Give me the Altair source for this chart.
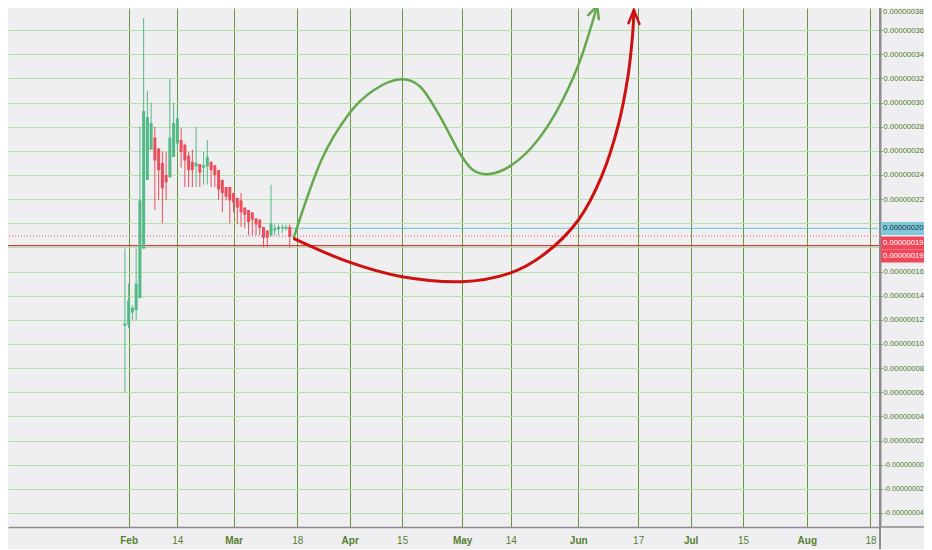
import altair as alt
import pandas as pd

# ---------------- data ----------------
candle_dates = [
    "2018-01-31", "2018-02-01", "2018-02-02", "2018-02-03", "2018-02-04", "2018-02-05",
    "2018-02-06", "2018-02-07", "2018-02-08", "2018-02-09", "2018-02-10", "2018-02-11",
    "2018-02-12", "2018-02-13", "2018-02-14", "2018-02-15", "2018-02-16", "2018-02-17",
    "2018-02-18", "2018-02-19", "2018-02-20", "2018-02-21", "2018-02-22", "2018-02-23",
    "2018-02-24", "2018-02-25", "2018-02-26", "2018-02-27", "2018-02-28", "2018-03-01",
    "2018-03-02", "2018-03-03", "2018-03-04", "2018-03-05", "2018-03-06", "2018-03-07",
    "2018-03-08", "2018-03-09", "2018-03-10", "2018-03-11", "2018-03-12", "2018-03-13",
    "2018-03-14", "2018-03-15", "2018-03-16",
]
# prices in satoshi (1e-8)
opens = [11.5, 11.6, 12.6, 12.8, 13.8, 17.9, 23.6, 26.1, 27.1, 26.2, 25.0, 24.0,
         23.8, 25.5, 26.6, 26.9, 26.5, 25.6, 25.1, 24.7, 24.9, 24.6, 24.7, 25.1,
         24.8, 24.4, 23.6, 23.0, 23.0, 22.5, 22.1, 21.9, 21.3, 21.1, 20.9, 20.4,
         20.3, 19.7, 19.4, 19.0, 19.4, 19.5, 19.6, 19.6, 19.7]
highs = [17.9, 15.0, 13.2, 17.9, 28.0, 37.0, 31.0, 30.0, 28.0, 26.2, 25.9, 25.9,
         32.0, 30.0, 29.6, 27.9, 26.6, 25.9, 26.1, 28.0, 24.9, 25.9, 26.9, 25.1,
         24.8, 24.4, 23.6, 23.0, 23.0, 22.5, 22.1, 22.5, 21.3, 21.1, 20.9, 20.4,
         20.3, 19.7, 19.4, 23.2, 19.9, 19.9, 19.9, 19.9, 19.9]
lows = [6.0, 11.3, 12.0, 12.0, 13.8, 17.9, 23.6, 26.1, 21.1, 21.9, 20.0, 21.9,
        23.8, 25.5, 26.1, 24.6, 23.0, 23.0, 23.0, 23.0, 23.0, 23.2, 23.2, 23.0,
        23.0, 21.9, 20.9, 21.9, 20.0, 20.9, 19.9, 19.7, 19.6, 19.0, 19.0, 19.0,
        19.0, 18.0, 18.0, 18.9, 19.0, 19.0, 19.2, 19.4, 18.0]
closes = [11.7, 13.6, 13.0, 15.0, 21.9, 29.3, 28.8, 28.3, 25.2, 24.4, 22.9, 23.4,
          27.1, 28.3, 28.7, 25.9, 25.2, 24.4, 24.4, 25.0, 24.2, 24.8, 25.5, 24.4,
          24.0, 22.8, 22.5, 22.2, 21.9, 21.7, 21.3, 20.9, 20.7, 20.1, 20.3, 19.9,
          19.6, 18.8, 18.8, 20.0, 19.6, 19.7, 19.7, 19.7, 18.9]

tick_dates = ["2018-02-01", "2018-02-14", "2018-03-01", "2018-03-18", "2018-04-01",
              "2018-04-15", "2018-05-01", "2018-05-14", "2018-06-01", "2018-06-17",
              "2018-07-01", "2018-07-15", "2018-08-01", "2018-08-18"]
price_ticks = [-4, -2, 0, 2, 4, 6, 8, 10, 12, 14, 16, 18, 20, 22, 24, 26, 28, 30,
               32, 34, 36, 38]
top_tick_val = 38
top_tick_text = "0.00000038"

green_dates = ["2018-03-17T00:00:00Z", "2018-03-24T11:00:00Z", "2018-03-31T22:00:00Z",
               "2018-04-07T12:00:00Z", "2018-04-14T13:00:00Z", "2018-04-19T20:00:00Z",
               "2018-04-25T03:00:00Z", "2018-04-30T09:00:00Z", "2018-05-03T22:00:00Z",
               "2018-05-08T07:00:00Z", "2018-05-13T14:00:00Z", "2018-05-19T17:00:00Z",
               "2018-05-25T22:00:00Z", "2018-06-01T01:00:00Z", "2018-06-06T01:00:00Z"]
green_vals = [18.75, 25.24, 29.11, 31.04, 31.93, 31.31, 28.83, 25.8, 24.41, 24.08,
              24.69, 26.34, 29.11, 33.11, 38.0]
green_head_dates = ["2018-06-03T16:00:00Z", "2018-06-06T01:00:00Z", "2018-06-06T12:00:00Z"]
green_head_vals = [37.25, 38.0, 36.9]

red_dates = ["2018-03-17T00:00:00Z", "2018-03-31T12:00:00Z", "2018-04-15T00:00:00Z",
             "2018-04-30T20:00:00Z", "2018-05-13T14:00:00Z", "2018-05-23T06:00:00Z",
             "2018-06-01T01:00:00Z", "2018-06-07T05:00:00Z", "2018-06-11T14:00:00Z",
             "2018-06-14T06:00:00Z", "2018-06-15T13:00:00Z", "2018-06-15T20:00:00Z"]
red_vals = [18.75, 16.82, 15.57, 15.16, 15.85, 17.51, 20.27, 23.86, 28.0, 32.14,
            35.74, 37.67]
red_head_dates = ["2018-06-14T10:00:00Z", "2018-06-15T20:00:00Z", "2018-06-17T08:00:00Z"]
red_head_vals = [36.57, 37.67, 36.51]

last_line_start = "2018-03-14"
last_line_val = 19.58
dotted_line_val = 18.94
solid_line_val = 18.14

badge_vals = [19.57, 18.36, 17.29]
badge_text = ["0.00000020", "0.00000019", "0.00000019"]
badge_kind = ["last", "level", "level"]

# ---------------- layout / style ----------------
FONT = "Liberation Sans"
BG = "#efeff1"
UP, DOWN = "#53b987", "#eb4d5c"
LABEL = "#4f7a2a"
YFS = 7.7
W, H = 872, 519
RIGHT = 44          # svg total width 916 -> no down-scaling by the page

x_start = pd.Timestamp("2018-01-01 03:07", tz="UTC")
x_end = pd.Timestamp("2018-08-19 05:00", tz="UTC")
x_domain = [int(x_start.value // 10**6), int(x_end.value // 10**6)]
y_domain = [-5.165, 37.834]

def dt(s):
    t = pd.Timestamp(s)
    return alt.DateTime(year=t.year, month=t.month, date=t.day, utc=True)

xaxis = alt.Axis(
    values=[dt(s) for s in tick_dates],
    labelExpr="utcdate(datum.value) == 1 ? utcFormat(datum.value, '%b') : '' + utcdate(datum.value)",
    labelFontWeight={"condition": {"test": "utcdate(datum.value) == 1", "value": "bold"},
                     "value": "normal"},
    grid=True, gridColor="#6a9746", gridWidth=1,
    ticks=False, tickSize=0,
    domain=True, domainColor="#8c8c8c", domainWidth=1.5,
    labelColor="#55802f", labelFont=FONT, labelFontSize=10, labelPadding=8,
    labelOverlap=False, labelFlush=False, title=None,
)
yaxis = alt.Axis(
    orient="right", values=price_ticks,
    labelExpr="(datum.value == 20 || datum.value == 18) ? '' : ((datum.value <= 0 ? '-' : '') + format(abs(datum.value) / 1e8, '.8f'))",
    labelFontSize={"condition": {"test": "datum.value <= 0", "value": 7.2}, "value": YFS},
    grid=True, gridColor="#b4e2ad", gridWidth=1,
    tickSize=2, tickColor="#55802f",
    domainColor="#8c8c8c", domainWidth=2,
    labelColor=LABEL, labelFont=FONT, labelPadding=1,
    title=None,
)
xs = alt.Scale(type="utc", domain=x_domain, nice=False)
ys = alt.Scale(domain=y_domain, nice=False, zero=False)

def X(field):
    return alt.X(field, type="temporal", scale=xs, axis=xaxis, title=None)

def Y(field):
    return alt.Y(field, type="quantitative", scale=ys, axis=yaxis, title=None)

# ---------------- tables ----------------
candles = pd.DataFrame({"date": candle_dates, "open": opens, "high": highs,
                        "low": lows, "close": closes})
green = pd.DataFrame({"date": green_dates, "value": green_vals})
green_head = pd.DataFrame({"date": green_head_dates, "value": green_head_vals})
red = pd.DataFrame({"date": red_dates, "value": red_vals})
red_head = pd.DataFrame({"date": red_head_dates, "value": red_head_vals})
badges = pd.DataFrame({"value": badge_vals, "text": badge_text, "kind": badge_kind})

dir_color = alt.Color("dir:N", scale=alt.Scale(domain=["up", "down"], range=[UP, DOWN]),
                      legend=None)

wicks = alt.Chart(candles).transform_calculate(
    dir="datum.close >= datum.open ? 'up' : 'down'"
).mark_rule(strokeWidth=1).encode(x=X("date"), y=Y("low"), y2="high", color=dir_color)

bodies = alt.Chart(candles).transform_calculate(
    dir="datum.close >= datum.open ? 'up' : 'down'"
).mark_bar(size=3).encode(x=X("date"), y=Y("open"), y2="close", color=dir_color)

dotted = alt.Chart(pd.DataFrame({"value": [dotted_line_val]})).mark_rule(
    color="#e2505e", strokeWidth=1, strokeDash=[1, 2]).encode(y=Y("value"))
solid = alt.Chart(pd.DataFrame({"value": [solid_line_val]})).mark_rule(
    color="#d43c3c", strokeWidth=1.2).encode(y=Y("value"))
last_line = alt.Chart(pd.DataFrame({"date": [last_line_start], "value": [last_line_val]})).mark_rule(
    color="#6cc3d5", strokeWidth=1).encode(
    x=X("date"), x2=alt.X2(datum=alt.DateTime(year=2018, month=8, date=20, utc=True)),
    y=Y("value"))

green_curve = alt.Chart(green).mark_line(interpolate="cardinal", color="#66a84e",
                                         strokeWidth=2.5).encode(x=X("date"), y=Y("value"))
green_arrow = alt.Chart(green_head).mark_line(color="#66a84e", strokeWidth=2.5,
                                              strokeCap="round").encode(x=X("date"), y=Y("value"))
red_curve = alt.Chart(red).mark_line(interpolate="cardinal", color="#cc1111",
                                     strokeWidth=3).encode(x=X("date"), y=Y("value"))
red_arrow = alt.Chart(red_head).mark_line(color="#cc1111", strokeWidth=2.5,
                                          strokeCap="round").encode(x=X("date"), y=Y("value"))

# right price-scale area drawn over the overflowing last time label
cover = alt.Chart(pd.DataFrame({"k": [0]})).mark_rect(color=BG).encode(
    x=alt.value(W - 3), x2=alt.value(W + RIGHT), y=alt.value(H + 2), y2=alt.value(H + 22))
axis_edge = alt.Chart(pd.DataFrame({"k": [0]})).mark_rule(color="#8c8c8c", strokeWidth=2).encode(
    x=alt.value(W), y=alt.value(0), y2=alt.value(H + 22))
bottom_edge = alt.Chart(pd.DataFrame({"k": [0]})).mark_rule(color="#8c8c8c", strokeWidth=1.5).encode(
    x=alt.value(W), x2=alt.value(W + RIGHT), y=alt.value(H))

# the top price label sits at the very top edge
top_label = alt.Chart(pd.DataFrame({"value": [top_tick_val], "text": [top_tick_text]})).mark_text(
    align="left", baseline="top", font=FONT, fontSize=YFS, color=LABEL, dy=2).encode(
    x=alt.value(W + 3), y=Y("value"), text="text:N")

badge_fill = alt.Color("kind:N", scale=alt.Scale(domain=["last", "level"],
                                                 range=["#7ec8d9", "#f0475a"]), legend=None)
badge_rect = alt.Chart(badges).transform_calculate(
    hi="datum.value + 0.54", lo="datum.value - 0.54"
).mark_rect().encode(x=alt.value(W + 1), x2=alt.value(W + RIGHT), y=Y("hi"), y2="lo",
                     color=badge_fill)
badge_txt = alt.Chart(badges).mark_text(align="left", baseline="middle", font=FONT,
                                        fontSize=YFS).encode(
    x=alt.value(W + 3), y=Y("value"), text="text:N",
    color=alt.Color("kind:N", scale=alt.Scale(domain=["last", "level"],
                                              range=["#1c2e3a", "#ffffff"]), legend=None))

chart = alt.layer(
    dotted, solid, last_line, wicks, bodies, green_curve, green_arrow, red_curve, red_arrow,
    cover, axis_edge, bottom_edge, top_label, badge_rect, badge_txt
).resolve_scale(color="independent").properties(
    width=W, height=H, background=BG,
    padding={"left": 0, "top": 0, "right": RIGHT, "bottom": 22},
    autosize=alt.AutoSizeParams(type="none"),
).configure_view(fill=BG, stroke=None)

chart.save("out.html", embed_options={"renderer": "svg", "actions": False})
